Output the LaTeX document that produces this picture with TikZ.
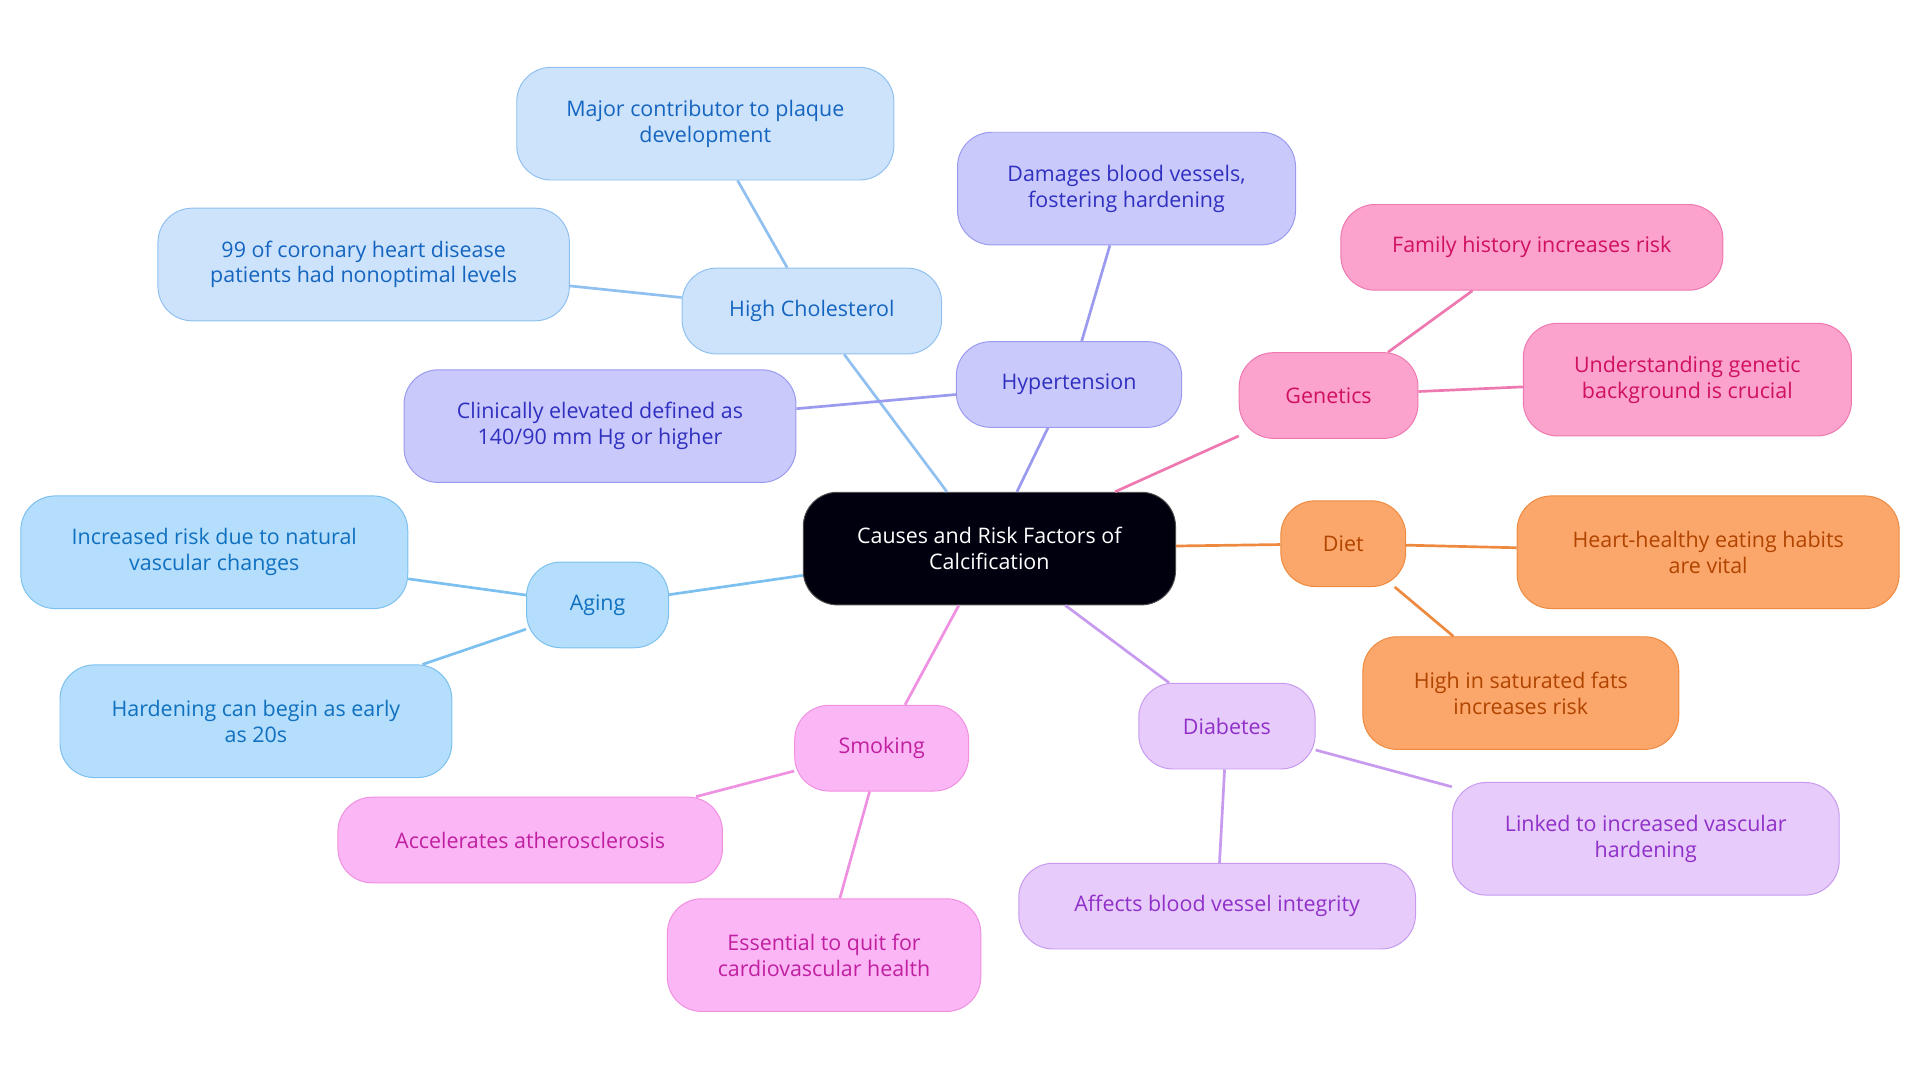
\documentclass[tikz,border=0pt]{standalone}
\usepackage{fontspec}
\setmainfont{Open Sans}
\definecolor{cf}{HTML}{CCE3FB}\definecolor{cb}{HTML}{90C0F0}\definecolor{ct}{HTML}{1565C0}
\definecolor{hf}{HTML}{C9C9FB}\definecolor{hb}{HTML}{9A9AEF}\definecolor{ht}{HTML}{3030C0}
\definecolor{gf}{HTML}{FBA3CC}\definecolor{gb}{HTML}{EE78B0}\definecolor{gt}{HTML}{D01060}
\definecolor{df}{HTML}{FBA66A}\definecolor{db}{HTML}{EE8A40}\definecolor{dt}{HTML}{B04400}
\definecolor{bf}{HTML}{E6CBFB}\definecolor{bb}{HTML}{C79AF0}\definecolor{bt}{HTML}{9030C8}
\definecolor{sf}{HTML}{FBB6F5}\definecolor{sb}{HTML}{F090E0}\definecolor{st}{HTML}{C020A0}
\definecolor{af}{HTML}{B4DEFB}\definecolor{ab}{HTML}{7CC0F0}\definecolor{at}{HTML}{1070C0}
\tikzset{
 box/.style={rounded corners=28pt,align=center,font=\fontsize{17.5}{21}\selectfont,inner sep=0pt,line width=0.8pt},
 br/.style n args={3}{box,fill=#1,draw=#2,text=#3},
 ed/.style={line width=2.2pt,draw=#1},
}
\begin{document}
\begin{tikzpicture}[x=1pt,y=-1pt]
\useasboundingbox (0,0) rectangle (1568,884);
\newcommand\nd[6]{\node[br=#5,minimum width=#3pt,minimum height=#4pt] (#1) at #2 {#6};}
\node[box,fill=black!90!blue!60!black,draw=black!70,text=white,minimum width=304pt,minimum height=92pt] (c) at (808,448) {Causes and Risk Factors of\\Calcification};
\nd{hc}{(663,254)}{212}{70}{{cf}{cb}{ct}}{High Cholesterol}
\nd{hc1}{(576,101)}{308}{92}{{cf}{cb}{ct}}{Major contributor to plaque\\development}
\nd{hc2}{(297,216)}{336}{92}{{cf}{cb}{ct}}{99 of coronary heart disease\\patients had nonoptimal levels}
\nd{hy}{(873,314)}{184}{70}{{hf}{hb}{ht}}{Hypertension}
\nd{hy1}{(920,154)}{276}{92}{{hf}{hb}{ht}}{Damages blood vessels,\\fostering hardening}
\nd{hy2}{(490,348)}{320}{92}{{hf}{hb}{ht}}{Clinically elevated defined as\\140/90 mm Hg or higher}
\nd{ge}{(1085,323)}{146}{70}{{gf}{gb}{gt}}{Genetics}
\nd{ge1}{(1251,202)}{312}{70}{{gf}{gb}{gt}}{Family history increases risk}
\nd{ge2}{(1378,310)}{268}{92}{{gf}{gb}{gt}}{Understanding genetic\\background is crucial}
\nd{di}{(1097,444)}{102}{70}{{df}{db}{dt}}{Diet}
\nd{di1}{(1395,451)}{312}{92}{{df}{db}{dt}}{Heart-healthy eating habits\\are vital}
\nd{di2}{(1242,566)}{258}{92}{{df}{db}{dt}}{High in saturated fats\\increases risk}
\nd{db}{(1002,593)}{144}{70}{{bf}{bb}{bt}}{Diabetes}
\nd{db1}{(1344,685)}{316}{92}{{bf}{bb}{bt}}{Linked to increased vascular\\hardening}
\nd{db2}{(994,740)}{324}{70}{{bf}{bb}{bt}}{Affects blood vessel integrity}
\nd{sm}{(720,611)}{142}{70}{{sf}{sb}{st}}{Smoking}
\nd{sm1}{(433,686)}{314}{70}{{sf}{sb}{st}}{Accelerates atherosclerosis}
\nd{sm2}{(673,780)}{256}{92}{{sf}{sb}{st}}{Essential to quit for\\cardiovascular health}
\nd{ag}{(488,494)}{116}{70}{{af}{ab}{at}}{Aging}
\nd{ag1}{(175,451)}{316}{92}{{af}{ab}{at}}{Increased risk due to natural\\vascular changes}
\nd{ag2}{(209,589)}{320}{92}{{af}{ab}{at}}{Hardening can begin as early\\as 20s}
\begin{scope}[on background layer/.style={}]
\end{scope}
\begin{pgfinterruptboundingbox}\end{pgfinterruptboundingbox}
\draw[ed=cb] (c) -- (hc); \draw[ed=cb] (hc) -- (hc1); \draw[ed=cb] (hc) -- (hc2);
\draw[ed=hb] (c) -- (hy); \draw[ed=hb] (hy) -- (hy1); \draw[ed=hb] (hy) -- (hy2);
\draw[ed=gb] (c) -- (ge); \draw[ed=gb] (ge) -- (ge1); \draw[ed=gb] (ge) -- (ge2);
\draw[ed=db] (c) -- (di); \draw[ed=db] (di) -- (di1); \draw[ed=db] (di) -- (di2);
\draw[ed=bb] (c) -- (db); \draw[ed=bb] (db) -- (db1); \draw[ed=bb] (db) -- (db2);
\draw[ed=sb] (c) -- (sm); \draw[ed=sb] (sm) -- (sm1); \draw[ed=sb] (sm) -- (sm2);
\draw[ed=ab] (c) -- (ag); \draw[ed=ab] (ag) -- (ag1); \draw[ed=ab] (ag) -- (ag2);
\end{tikzpicture}
\end{document}
